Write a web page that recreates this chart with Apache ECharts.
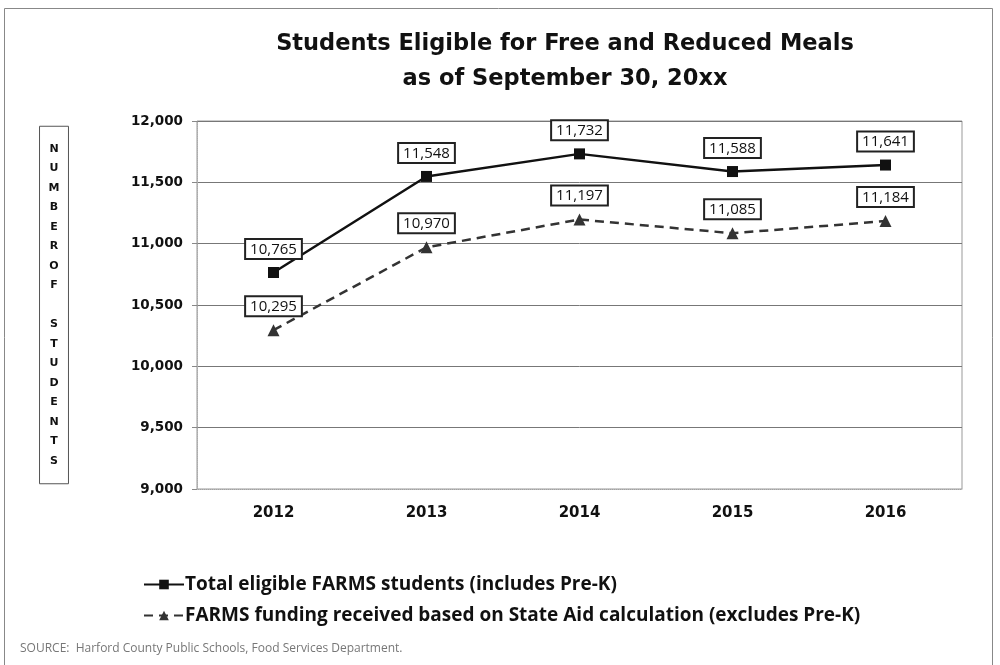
<!DOCTYPE html>
<html><head><meta charset="utf-8">
<script src="https://cdn.jsdelivr.net/npm/echarts@6/dist/echarts.min.js"></script>
<style>html,body{margin:0;padding:0;background:#fff}#c{width:1000px;height:665px}</style>
</head><body><div id="c"></div>
<script>
const years = ['2012','2013','2014','2015','2016'];
const totalEligible = [10765, 11548, 11732, 11588, 11641];
const fundingReceived = [10295, 10970, 11197, 11085, 11184];
const yTicks = [9000, 9500, 10000, 10500, 11000, 11500, 12000];
const seriesNames = ['Total eligible FARMS students (includes Pre-K)', 'FARMS funding received based on State Aid calculation (excludes Pre-K)'];
const titleLines = ['Students Eligible for Free and Reduced Meals', 'as of September 30, 20xx'];
const yName = 'NUMBEROF STUDENTS';
const source = 'SOURCE:  Harford County Public Schools, Food Services Department.';

const fmt = v => v.toLocaleString('en-US');
const chart = echarts.init(document.getElementById('c'));
const labelStyle = {
  show: true, position: 'top', distance: 9,
  formatter: p => fmt(p.value),
  fontFamily: 'Open Sans', fontSize: 15, color: '#111',
  backgroundColor: '#fff', borderColor: '#222', borderWidth: 2, padding: [2, 4, 1, 4]
};
chart.setOption({
  animation: false,
  backgroundColor: '#fff',
  title: {
    text: titleLines.join('\n'), left: 560, textAlign: 'center', top: 22,
    textStyle: { fontFamily: 'DejaVu Sans', fontWeight: 'bold', fontSize: 22.5, lineHeight: 35, color: '#111' }
  },
  legend: {
    orient: 'vertical', left: 138, top: 570, itemGap: 12, itemWidth: 40, itemHeight: 12,
    textStyle: { fontFamily: 'Open Sans', fontWeight: 'bold', fontSize: 19, color: '#111', padding: [0, 0, 0, -4] },
    data: seriesNames
  },
  grid: { left: 197, right: 38, top: 121, bottom: 176, show: true, borderColor: '#999', borderWidth: 1 },
  xAxis: {
    type: 'category', data: years, boundaryGap: true,
    axisLine: { show: true, lineStyle: { color: '#bbb', type: 'dotted' } },
    axisTick: { show: false },
    axisLabel: { margin: 17, fontFamily: 'DejaVu Sans', fontWeight: 'bold', fontSize: 15, color: '#111' }
  },
  yAxis: {
    type: 'value', min: yTicks[0], max: yTicks[yTicks.length - 1], interval: 500,
    name: yName.split('').join('\n'),
    nameLocation: 'middle', nameGap: 143, nameRotate: 0,
    nameTextStyle: {
      fontFamily: 'DejaVu Sans', fontWeight: 'bold', fontSize: 11, lineHeight: 19.5, color: '#111',
      borderColor: '#555', borderWidth: 1, padding: [12, 9, 14, 9], align: 'center'
    },
    axisLine: { show: true, lineStyle: { color: '#aaa', type: 'dotted' } },
    axisTick: { show: true, length: 5, lineStyle: { color: '#888' } },
    splitLine: { lineStyle: { color: '#777', width: 1 } },
    axisLabel: { margin: 14, formatter: v => fmt(v), fontFamily: 'DejaVu Sans', fontWeight: 'bold', fontSize: 13.5, color: '#111' }
  },
  series: [
    {
      name: seriesNames[0], type: 'line', data: totalEligible,
      symbol: 'rect', symbolSize: 11,
      lineStyle: { color: '#111', width: 2.5 }, itemStyle: { color: '#111' },
      label: labelStyle
    },
    {
      name: seriesNames[1], type: 'line', data: fundingReceived,
      symbol: 'triangle', symbolSize: 12,
      lineStyle: { color: '#333', width: 2.5, type: [9, 6] }, itemStyle: { color: '#333' },
      label: labelStyle
    }
  ],
  graphic: [
    { type: 'rect', shape: { x: 4.5, y: 8.5, width: 988, height: 700 }, style: { fill: 'none', stroke: '#888', lineWidth: 1 }, silent: true },
    { type: 'text', left: 20, top: 643, style: { text: source, fontFamily: 'Open Sans', fontSize: 12, fill: '#777' } }
  ]
});
</script></body></html>
